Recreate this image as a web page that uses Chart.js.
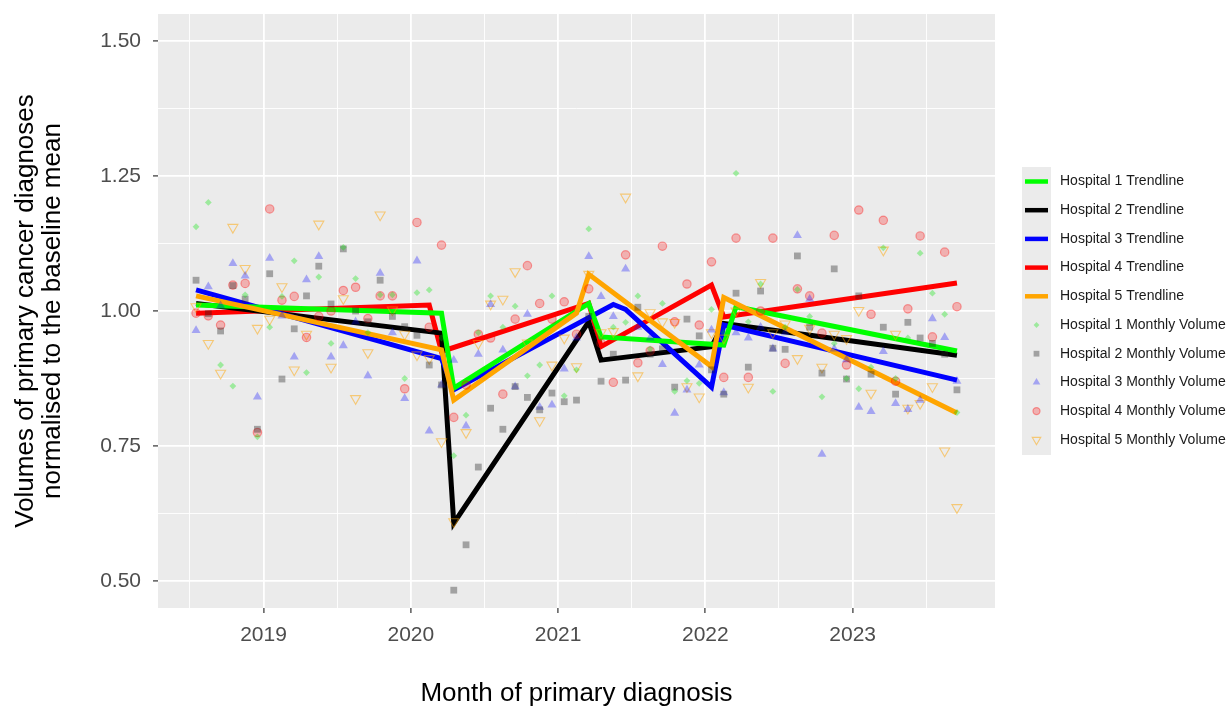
<!DOCTYPE html>
<html>
<head>
<meta charset="utf-8">
<script src="https://cdn.jsdelivr.net/npm/chart.js@4.4.1/dist/chart.umd.min.js"></script>
<style>
  html, body { margin: 0; padding: 0; background: #ffffff; }
  #wrap { width: 1228px; height: 709px; }
</style>
</head>
<body>
<div id="wrap"><canvas id="chart" width="1228" height="709"></canvas></div>
<script>
// months of primary diagnosis (Jul 2018 - Sep 2023)
const months = [
  '2018-07','2018-08','2018-09','2018-10','2018-11','2018-12',
  '2019-01','2019-02','2019-03','2019-04','2019-05','2019-06','2019-07','2019-08','2019-09','2019-10','2019-11','2019-12',
  '2020-01','2020-02','2020-03','2020-04','2020-05','2020-06','2020-07','2020-08','2020-09','2020-10','2020-11','2020-12',
  '2021-01','2021-02','2021-03','2021-04','2021-05','2021-06','2021-07','2021-08','2021-09','2021-10','2021-11','2021-12',
  '2022-01','2022-02','2022-03','2022-04','2022-05','2022-06','2022-07','2022-08','2022-09','2022-10','2022-11','2022-12',
  '2023-01','2023-02','2023-03','2023-04','2023-05','2023-06','2023-07','2023-08','2023-09'
];

// monthly volumes normalised to baseline mean
const hospital1Monthly = [
  1.156, 1.201, 0.900, 0.861, 1.030, 0.767,
  0.970, 1.027, 1.093, 0.886, 1.063, 0.940, 1.118, 1.060, 0.960, 1.030, 1.030, 0.875,
  1.034, 1.039, 0.950, 0.732, 0.807, 0.960, 1.028, 0.970, 1.009, 0.880, 0.900, 1.028,
  0.843, 0.891, 1.152, 0.950, 0.970, 0.979, 1.028, 0.930, 1.014, 0.851, 0.871, 0.866,
  1.003, 0.960, 1.255, 0.980, 1.050, 0.851, 0.970, 1.040, 0.990, 0.841, 0.940, 0.875,
  0.856, 0.896, 1.117, 0.875, 0.950, 1.107, 1.033, 0.994, 0.812
];
const hospital2Monthly = [
  1.057, 0.995, 0.963, 1.047, 1.022, 0.781,
  1.069, 0.874, 0.967, 1.028, 1.083, 1.013, 1.115, 1.000, 0.980, 1.057, 0.990, 0.971,
  0.955, 0.900, 0.863, 0.483, 0.567, 0.711, 0.820, 0.781, 0.860, 0.840, 0.817, 0.848,
  0.832, 0.835, 0.990, 0.870, 0.920, 0.872, 1.007, 0.920, 0.930, 0.859, 0.985, 0.954,
  0.891, 0.846, 1.033, 0.896, 1.037, 0.931, 0.929, 1.102, 0.970, 0.885, 1.078, 0.874,
  1.028, 0.883, 0.970, 0.846, 0.979, 0.950, 0.940, 0.920, 0.854
];
const hospital3Monthly = [
  0.964, 1.045, 1.010, 1.088, 1.065, 0.841,
  1.098, 0.991, 0.915, 1.058, 1.101, 0.915, 0.936, 0.980, 0.880, 1.070, 0.960, 0.838,
  1.093, 0.778, 0.863, 0.909, 0.787, 0.920, 1.012, 0.928, 0.860, 0.994, 0.822, 0.826,
  0.893, 0.950, 1.101, 1.027, 0.990, 1.078, 0.970, 0.950, 0.901, 0.811, 0.854, 0.900,
  0.965, 0.849, 0.960, 0.950, 0.970, 0.930, 0.960, 1.140, 1.022, 0.735, 0.930, 0.910,
  0.822, 0.814, 0.925, 0.829, 0.818, 0.835, 0.986, 0.951, 0.870
];
const hospital4Monthly = [
  0.996, 0.991, 0.974, 1.048, 1.051, 0.775,
  1.189, 1.020, 1.027, 0.951, 0.990, 1.000, 1.038, 1.044, 0.986, 1.028, 1.028, 0.856,
  1.164, 0.970, 1.122, 0.803, 0.863, 0.957, 0.950, 0.846, 0.985, 1.084, 1.014, 0.985,
  1.017, 0.957, 1.041, 0.940, 0.868, 1.104, 0.904, 0.926, 1.120, 0.980, 1.050, 0.974,
  1.091, 0.877, 1.135, 0.877, 1.000, 1.135, 0.903, 1.041, 1.028, 0.959, 1.140, 0.900,
  1.187, 0.994, 1.168, 0.870, 1.004, 1.139, 0.952, 1.109, 1.008
];
const hospital5Monthly = [
  1.008, 0.940, 0.885, 1.155, 1.079, 0.968,
  0.985, 1.045, 0.891, 0.957, 1.161, 0.896, 1.023, 0.838, 0.923, 1.178, 1.002, 0.957,
  0.919, 0.912, 0.758, 0.610, 0.775, 0.940, 1.013, 1.022, 1.073, 0.941, 0.797, 0.900,
  0.950, 0.897, 1.068, 0.960, 0.962, 1.211, 0.880, 0.997, 0.980, 0.979, 0.860, 0.841,
  0.960, 0.950, 1.000, 0.859, 1.053, 0.960, 0.976, 0.912, 0.968, 0.896, 0.957, 0.949,
  1.001, 0.848, 1.113, 0.957, 0.820, 0.829, 0.860, 0.741, 0.636
];

// segmented trendlines: breakpoint months and fitted values
const hospital1TrendMonths = ['2018-07','2020-03','2020-04','2021-03','2021-04','2022-02','2022-03','2023-09'];
const hospital1Trend       = [1.011, 0.996, 0.857, 1.014, 0.952, 0.937, 1.008, 0.926];
const hospital2TrendMonths = ['2018-07','2020-03','2020-04','2021-03','2021-04','2022-01','2022-02','2023-09'];
const hospital2Trend       = [1.014, 0.959, 0.607, 0.980, 0.909, 0.934, 0.977, 0.918];
const hospital3TrendMonths = ['2018-07','2020-03','2020-04','2021-05','2021-06','2022-01','2022-02','2023-09'];
const hospital3Trend       = [1.039, 0.912, 0.854, 1.012, 1.003, 0.859, 0.974, 0.872];
const hospital4TrendMonths = ['2018-07','2020-02','2020-03','2021-03','2021-04','2022-01','2022-02','2023-09'];
const hospital4Trend       = [0.996, 1.011, 0.925, 1.014, 0.934, 1.048, 0.989, 1.052];
const hospital5TrendMonths = ['2018-07','2020-03','2020-04','2021-02','2021-03','2022-01','2022-02','2023-09'];
const hospital5Trend       = [1.028, 0.928, 0.835, 0.996, 1.068, 0.897, 1.025, 0.811];

// axes
const xTickValues = [2019, 2020, 2021, 2022, 2023];
const xTickLabels = ['2019', '2020', '2021', '2022', '2023'];
const xMinorValues = [2018.5, 2019.5, 2020.5, 2021.5, 2022.5, 2023.5];
const yTickValues = [0.5, 0.75, 1.0, 1.25, 1.5];
const yTickLabels = ['0.50', '0.75', '1.00', '1.25', '1.50'];
const yMinorValues = [0.625, 0.875, 1.125, 1.375];

const FONT = "'Liberation Sans', Arial, Helvetica, sans-serif";

// month label -> decimal year at mid month
function monthToX(m) {
  const parts = m.split('-');
  return Number(parts[0]) + (Number(parts[1]) - 0.5) / 12;
}
function toPoints(labels, values) {
  return labels.map((m, i) => ({ x: monthToX(m), y: values[i] }));
}

const trendStyles = [
  { label: 'Hospital 1 Trendline', color: '#00ff00', order: 2, months: hospital1TrendMonths, values: hospital1Trend },
  { label: 'Hospital 2 Trendline', color: '#000000', order: 4, months: hospital2TrendMonths, values: hospital2Trend },
  { label: 'Hospital 3 Trendline', color: '#0000ff', order: 3, months: hospital3TrendMonths, values: hospital3Trend },
  { label: 'Hospital 4 Trendline', color: '#ff0000', order: 5, months: hospital4TrendMonths, values: hospital4Trend },
  { label: 'Hospital 5 Trendline', color: '#ffa500', order: 1, months: hospital5TrendMonths, values: hospital5Trend }
];
const pointStyles = [
  { label: 'Hospital 1 Monthly Volume', values: hospital1Monthly, style: 'rectRot', radius: 3.4, rotation: 0,
    bg: 'rgba(0,230,0,0.33)', border: 'rgba(0,230,0,0.33)', bw: 0 },
  { label: 'Hospital 2 Monthly Volume', values: hospital2Monthly, style: 'rect', radius: 4.8, rotation: 0,
    bg: 'rgba(30,30,30,0.36)', border: 'rgba(30,30,30,0.36)', bw: 0 },
  { label: 'Hospital 3 Monthly Volume', values: hospital3Monthly, style: 'triangle', radius: 5.2, rotation: 0,
    bg: 'rgba(0,0,255,0.3)', border: 'rgba(0,0,255,0.3)', bw: 0 },
  { label: 'Hospital 4 Monthly Volume', values: hospital4Monthly, style: 'circle', radius: 4.2, rotation: 0,
    bg: 'rgba(255,0,0,0.25)', border: 'rgba(255,0,0,0.35)', bw: 1.2 },
  { label: 'Hospital 5 Monthly Volume', values: hospital5Monthly, style: 'triangle', radius: 5.8, rotation: 180,
    bg: 'rgba(0,0,0,0)', border: 'rgba(255,165,0,0.5)', bw: 1.1 }
];

const datasets = [];
pointStyles.forEach(p => {
  datasets.push({
    label: p.label,
    data: toPoints(months, p.values),
    showLine: false,
    pointStyle: p.style,
    pointRadius: p.radius,
    pointRotation: p.rotation,
    pointBackgroundColor: p.bg,
    pointBorderColor: p.border,
    pointBorderWidth: p.bw,
    order: 0
  });
});
trendStyles.forEach(t => {
  datasets.push({
    label: t.label,
    data: toPoints(t.months, t.values),
    showLine: true,
    borderColor: t.color,
    borderWidth: 5,
    pointRadius: 0,
    tension: 0,
    fill: false,
    order: t.order
  });
});

// grey panel behind the grid
const panelBg = {
  id: 'panelBg',
  beforeDraw(chart) {
    const { ctx, chartArea: a } = chart;
    ctx.save();
    ctx.fillStyle = '#ffffff';
    ctx.fillRect(0, 0, chart.width, chart.height);
    ctx.fillStyle = '#ebebeb';
    ctx.fillRect(a.left, a.top, a.right - a.left, a.bottom - a.top);
    ctx.restore();
  }
};

// ggplot style legend on the right
const ggLegend = {
  id: 'ggLegend',
  afterDraw(chart) {
    const ctx = chart.ctx;
    const x0 = 1022, top = 167, rowH = 28.7, keyW = 29;
    const rows = trendStyles.length + pointStyles.length;
    ctx.save();
    ctx.fillStyle = '#ebebeb';
    ctx.fillRect(x0, top, keyW, rows * rowH + 1);
    ctx.font = '14px ' + FONT;
    ctx.textBaseline = 'middle';
    ctx.textAlign = 'left';
    let y = top + 14.5;
    trendStyles.forEach(t => {
      ctx.strokeStyle = t.color;
      ctx.lineWidth = 4.5;
      ctx.beginPath();
      ctx.moveTo(x0 + 3, y);
      ctx.lineTo(x0 + keyW - 3, y);
      ctx.stroke();
      ctx.fillStyle = '#1a1a1a';
      ctx.fillText(t.label, 1060, y);
      y += rowH;
    });
    pointStyles.forEach(p => {
      ctx.fillStyle = p.bg;
      ctx.strokeStyle = p.border;
      ctx.lineWidth = p.bw;
      Chart.helpers.drawPoint(ctx, {
        pointStyle: p.style, radius: p.radius * 0.85, rotation: p.rotation, borderWidth: p.bw
      }, x0 + keyW / 2, y);
      ctx.fillStyle = '#1a1a1a';
      ctx.fillText(p.label, 1060, y);
      y += rowH;
    });
    ctx.restore();
  }
};

const isMajorX = v => xTickValues.includes(v);
const isMajorY = v => yTickValues.includes(v);

new Chart(document.getElementById('chart'), {
  type: 'scatter',
  data: { datasets },
  options: {
    responsive: false,
    animation: false,
    devicePixelRatio: 1,
    layout: { padding: { top: 14, right: 233, bottom: 0, left: 0 } },
    plugins: {
      legend: { display: false },
      tooltip: { enabled: false }
    },
    scales: {
      x: {
        type: 'linear',
        min: 2018.2833,
        max: 2023.9667,
        afterBuildTicks: s => {
          s.ticks = xMinorValues.concat(xTickValues).sort((a, b) => a - b).map(v => ({ value: v }));
        },
        afterFit: s => {
          s.height = 101;
          s.paddingLeft = 0;
          s.paddingRight = 0;
        },
        border: { display: false },
        grid: {
          color: '#ffffff',
          lineWidth: c => isMajorX(c.tick.value) ? 1.8 : 0.9,
          drawTicks: true,
          tickLength: 5,
          tickWidth: 1.2,
          tickColor: c => isMajorX(c.tick.value) ? '#333333' : 'rgba(0,0,0,0)'
        },
        ticks: {
          autoSkip: false,
          maxRotation: 0,
          padding: 10,
          color: '#4d4d4d',
          font: { family: FONT, size: 21 },
          callback: v => isMajorX(v) ? xTickLabels[xTickValues.indexOf(v)] : ''
        },
        title: {
          display: true,
          text: 'Month of primary diagnosis',
          color: '#000000',
          font: { family: FONT, size: 26, lineHeight: 1.04 },
          padding: { top: 0, bottom: 2 }
        }
      },
      y: {
        type: 'linear',
        min: 0.45,
        max: 1.55,
        afterBuildTicks: s => {
          s.ticks = yMinorValues.concat(yTickValues).sort((a, b) => a - b).map(v => ({ value: v }));
        },
        afterFit: s => {
          s.width = 158;
          s.paddingTop = 0;
          s.paddingBottom = 0;
        },
        border: { display: false },
        grid: {
          color: '#ffffff',
          lineWidth: c => isMajorY(c.tick.value) ? 1.8 : 0.9,
          drawTicks: true,
          tickLength: 5,
          tickWidth: 1.2,
          tickColor: c => isMajorY(c.tick.value) ? '#333333' : 'rgba(0,0,0,0)'
        },
        ticks: {
          autoSkip: false,
          padding: 12,
          color: '#4d4d4d',
          font: { family: FONT, size: 21 },
          callback: v => isMajorY(v) ? yTickLabels[yTickValues.indexOf(v)] : ''
        },
        title: {
          display: true,
          text: ['Volumes of primary cancer diagnoses', 'normalised to the baseline mean'],
          color: '#000000',
          font: { family: FONT, size: 26, lineHeight: 1.04 },
          padding: { top: 12, bottom: 0 }
        }
      }
    }
  },
  plugins: [panelBg, ggLegend]
});
</script>
</body>
</html>
